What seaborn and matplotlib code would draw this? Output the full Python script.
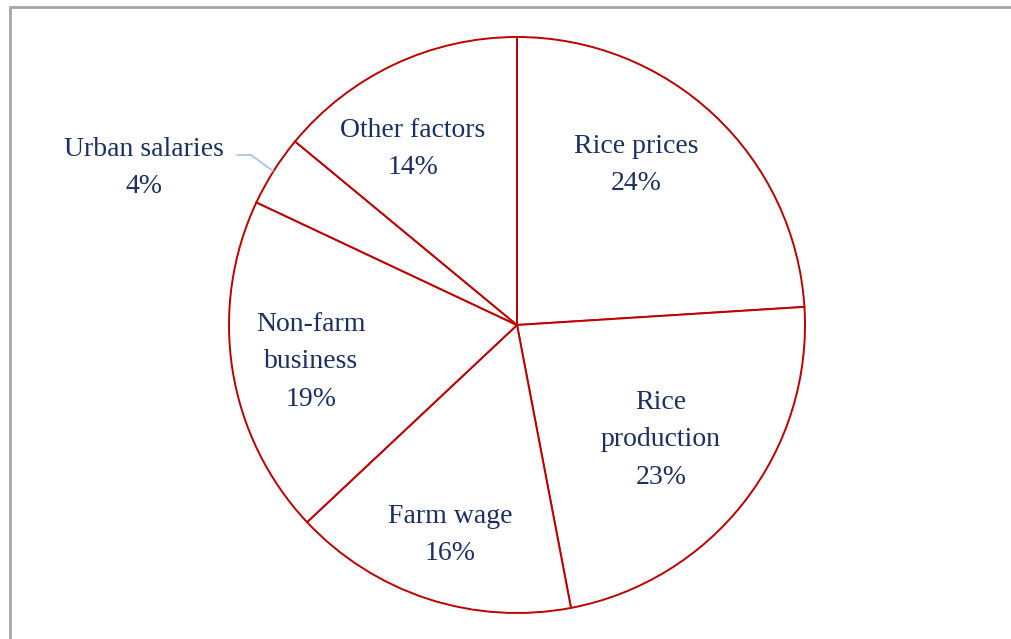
import matplotlib.pyplot as plt
import seaborn as sns
from matplotlib.patches import Rectangle

# data
factors = ["Rice prices", "Rice\nproduction", "Farm wage", "Non-farm\nbusiness",
           "Urban salaries", "Other factors"]
shares = [24, 23, 16, 19, 4, 14]

# label centres in pixel coords (y measured from top)
label_pos = [(636, 165), (661, 440), (450, 535), (311, 362), (144, 168), (413, 149)]

EDGE = "#C00000"
TEXT = "#1A2F66"

sns.set_theme(style="white")
plt.rcParams["font.family"] = ["Liberation Serif", "DejaVu Serif"]

W, H = 1011, 639
fig = plt.figure(figsize=(W / 100, H / 100), dpi=100)
ax = fig.add_axes([0, 0, 1, 1])
ax.set_xlim(0, W)
ax.set_ylim(0, H)
ax.set_aspect("equal")
ax.axis("off")

# outer frame (cropped)
ax.add_patch(Rectangle((9.5, -20), W + 40, H - 7 + 20, fill=False,
                       edgecolor="#A6A6A6", linewidth=2))

cx, cy, r = 517, H - 325, 288
ax.pie(shares, startangle=90, counterclock=False, center=(cx, cy), radius=r,
       colors=["white"] * len(shares),
       wedgeprops=dict(edgecolor=EDGE, linewidth=1.4))
ax.set_xlim(0, W)
ax.set_ylim(0, H)

for name, val, (x, y) in zip(factors, shares, label_pos):
    ax.text(x, H - y, f"{name}\n{val}%", ha="center", va="center",
            fontsize=20, color=TEXT, linespacing=1.66)

# leader line for the small slice
ax.plot([237, 251, 273], [H - 155, H - 155, H - 171], color="#9DC3E6", lw=1.2)

fig.savefig("out.png", dpi=100)
